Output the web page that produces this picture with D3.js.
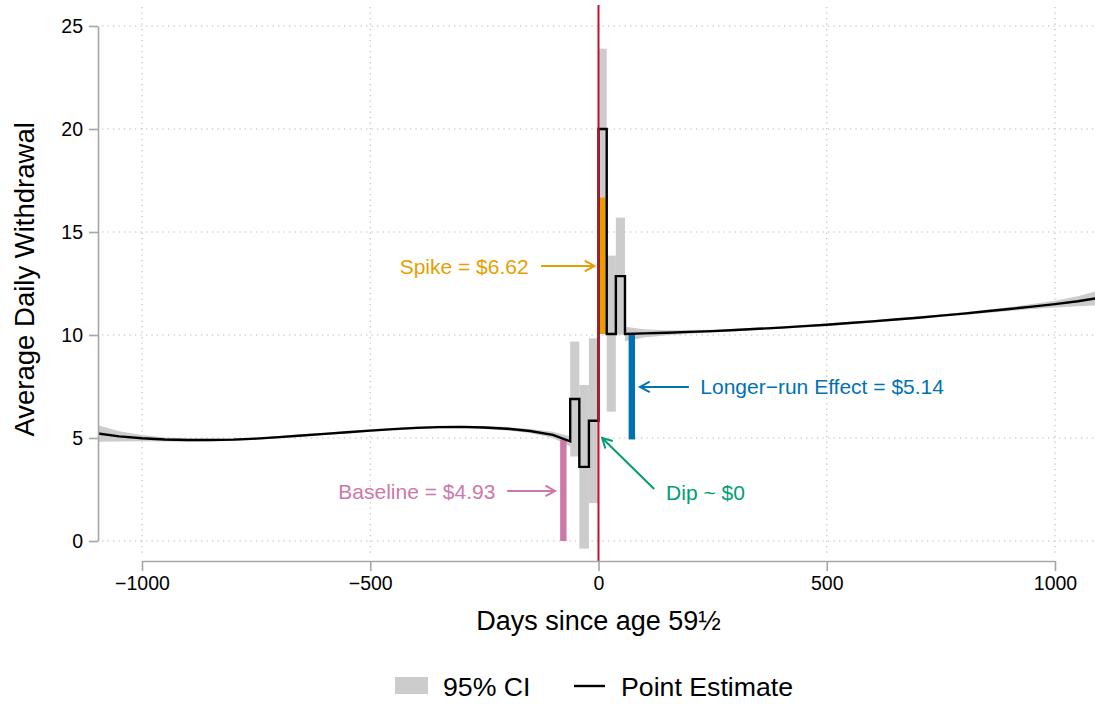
<!DOCTYPE html>
<html>
<head>
<meta charset="utf-8">
<script src="https://cdn.jsdelivr.net/npm/d3@7"></script>
<style>
  body { margin: 0; background: #fff; }
  svg { display: block; font-family: "Liberation Sans", Arial, sans-serif; }
</style>
</head>
<body>
<svg class="rd_chart" width="1095" height="704"></svg>
<script>
// left polynomial fit (days before 59.5)
var leftDays = [-1096, -1050, -1000, -950, -900, -850, -800, -750, -700, -650, -600, -550, -500, -450, -400, -350, -300, -250, -200, -150, -100, -62];
var leftEst = [5.22, 5.08, 4.99, 4.93, 4.90, 4.90, 4.92, 4.97, 5.04, 5.12, 5.20, 5.28, 5.36, 5.43, 5.49, 5.53, 5.54, 5.51, 5.45, 5.34, 5.15, 4.84];
var leftHi = [5.62, 5.33, 5.14, 5.03, 4.98, 4.96, 4.98, 5.03, 5.10, 5.18, 5.26, 5.34, 5.42, 5.49, 5.55, 5.59, 5.60, 5.58, 5.53, 5.44, 5.30, 5.09];
var leftLo = [4.82, 4.83, 4.84, 4.83, 4.82, 4.84, 4.86, 4.91, 4.98, 5.06, 5.14, 5.22, 5.30, 5.37, 5.43, 5.47, 5.48, 5.44, 5.37, 5.24, 5.00, 4.59];

// right polynomial fit
var rightDays = [58, 100, 150, 200, 250, 300, 350, 400, 450, 500, 550, 600, 650, 700, 750, 800, 850, 900, 950, 1000, 1050, 1096];
var rightEst = [10.05, 10.08, 10.11, 10.15, 10.19, 10.24, 10.30, 10.36, 10.43, 10.50, 10.58, 10.66, 10.75, 10.84, 10.94, 11.04, 11.15, 11.26, 11.38, 11.50, 11.64, 11.80];
var rightHi = [10.40, 10.28, 10.23, 10.24, 10.26, 10.30, 10.36, 10.42, 10.49, 10.56, 10.64, 10.72, 10.81, 10.90, 11.00, 11.11, 11.23, 11.36, 11.50, 11.66, 11.88, 12.16];
var rightLo = [9.70, 9.88, 9.99, 10.06, 10.12, 10.18, 10.24, 10.30, 10.37, 10.44, 10.52, 10.60, 10.69, 10.78, 10.88, 10.97, 11.07, 11.16, 11.26, 11.34, 11.40, 11.44];

// bins around the threshold
var binStart = [-62, -42, -21, 0, 18, 38];
var binEnd = [-42, -21, 0, 18, 38, 58];
var binEst = [6.89, 3.60, 5.84, 20.00, 10.05, 12.86];
var binLo = [4.10, -0.37, 1.84, 16.10, 6.28, 10.02];
var binHi = [9.68, 7.57, 9.84, 23.90, 13.85, 15.70];

// effect bars
var effectKeys = ["baseline", "spike", "longer"];
var effectDay = [-77, 9, 73];
var effectLo = [0, 10.05, 4.93];
var effectHi = [4.93, 16.67, 10.07];

// annotations: text anchor and arrow (from -> to) in data units
var noteKeys = ["spike", "baseline", "longer", "dip"];
var noteText = ["Spike = $6.62", "Baseline = $4.93", "Longer\u2212run Effect = $5.14", "Dip ~ $0"];
var noteDay = [-153, -226, 223, 148];
var noteVal = [13.35, 2.43, 7.48, 2.38];
var arrowFromDay = [-126, -200, 198, 122];
var arrowFromVal = [13.35, 2.43, 7.48, 2.52];
var arrowToDay = [-9, -95, 91, 8];
var arrowToVal = [13.35, 2.43, 7.48, 5.0];

var xTicks = [-1000, -500, 0, 500, 1000];
var yTicks = [0, 5, 10, 15, 20, 25];
var legendLabels = ["95% CI", "Point Estimate"];

var colors = {
    baseline: "#CC79A7",
    spike: "#E69F00",
    longer: "#0072B2",
    dip: "#009E73"
};

var chart = d3.select(".rd_chart");

var x = d3.scaleLinear()
    .domain([-1000, 1000])
    .range([142, 1055]);

var y = d3.scaleLinear()
    .domain([0, 25])
    .range([541, 26]);

var plotLeft = 98, plotRight = 1095, plotTop = 5, axisY = 561;

// grid
chart.append("g")
    .selectAll("line")
    .data(yTicks)
    .enter()
    .append("line")
    .attr("x1", plotLeft + 4)
    .attr("x2", plotRight)
    .attr("y1", d => y(d))
    .attr("y2", d => y(d))
    .style("stroke", "#b8b8b8")
    .style("stroke-width", 1.1)
    .style("stroke-dasharray", "1.3,4.2");

chart.append("g")
    .selectAll("line")
    .data(xTicks)
    .enter()
    .append("line")
    .attr("x1", d => x(d))
    .attr("x2", d => x(d))
    .attr("y1", plotTop + 2)
    .attr("y2", axisY - 5)
    .style("stroke", "#b8b8b8")
    .style("stroke-width", 1.1)
    .style("stroke-dasharray", "1.3,4.2");

var left = leftDays.map((d, i) => ({ day: d, est: leftEst[i], lo: leftLo[i], hi: leftHi[i] }));
var right = rightDays.map((d, i) => ({ day: d, est: rightEst[i], lo: rightLo[i], hi: rightHi[i] }));
var bins = binStart.map((d, i) => ({ start: d, end: binEnd[i], est: binEst[i], lo: binLo[i], hi: binHi[i] }));

var area = d3.area()
    .x(d => x(d.day))
    .y0(d => y(d.lo))
    .y1(d => y(d.hi));

[left, right].forEach(function (series) {
    chart.append("path")
        .datum(series)
        .attr("d", area)
        .style("fill", "#cccccc");
});

chart.selectAll(".ci-bin")
    .data(bins)
    .enter()
    .append("rect")
    .attr("class", "ci-bin")
    .attr("x", d => x(d.start))
    .attr("width", d => x(d.end) - x(d.start))
    .attr("y", d => y(d.hi))
    .attr("height", d => y(d.lo) - y(d.hi))
    .style("fill", "#cccccc");

// effect bars
chart.selectAll(".effect")
    .data(effectKeys)
    .enter()
    .append("rect")
    .attr("class", "effect")
    .attr("x", (d, i) => x(effectDay[i]) - 3.2)
    .attr("width", 6.4)
    .attr("y", (d, i) => y(effectHi[i]))
    .attr("height", (d, i) => y(effectLo[i]) - y(effectHi[i]))
    .style("fill", d => colors[d]);

// point estimate: left fit, steps, right fit
var pts = left.map(d => [d.day, d.est]);
bins.forEach(function (b) {
    pts.push([b.start, b.est]);
    pts.push([b.end, b.est]);
});
right.forEach(d => pts.push([d.day, d.est]));

var line = d3.line()
    .x(d => x(d[0]))
    .y(d => y(d[1]));

chart.append("path")
    .datum(pts)
    .attr("d", line)
    .style("fill", "none")
    .style("stroke", "#000")
    .style("stroke-width", 2.4)
    .style("stroke-linejoin", "miter");

// threshold
chart.append("line")
    .attr("x1", x(0))
    .attr("x2", x(0))
    .attr("y1", plotTop)
    .attr("y2", axisY)
    .style("stroke", "#c8102e")
    .style("stroke-width", 2);

// annotations
var notes = chart.append("g");
noteKeys.forEach(function (k, i) {
    var x1 = x(arrowFromDay[i]), y1 = y(arrowFromVal[i]);
    var x2 = x(arrowToDay[i]), y2 = y(arrowToVal[i]);
    var ang = Math.atan2(y2 - y1, x2 - x1);
    var hl = 11, hw = 0.5;
    notes.append("line")
        .attr("x1", x1).attr("y1", y1)
        .attr("x2", x2).attr("y2", y2)
        .style("stroke", colors[k])
        .style("stroke-width", 2);
    notes.append("path")
        .attr("d", "M" + (x2 - hl * Math.cos(ang - hw)) + "," + (y2 - hl * Math.sin(ang - hw)) +
            "L" + x2 + "," + y2 +
            "L" + (x2 - hl * Math.cos(ang + hw)) + "," + (y2 - hl * Math.sin(ang + hw)))
        .style("fill", "none")
        .style("stroke", colors[k])
        .style("stroke-width", 2);
    notes.append("text")
        .attr("x", x(noteDay[i]))
        .attr("y", y(noteVal[i]))
        .attr("dy", "0.36em")
        .attr("text-anchor", noteDay[i] < 0 ? "end" : "start")
        .style("font-size", "21px")
        .style("fill", colors[k])
        .text(noteText[i]);
});

// axes
var xAxis = d3.axisBottom(x)
    .tickValues(xTicks)
    .tickFormat(d3.format("d"))
    .tickSize(10)
    .tickSizeOuter(0)
    .tickPadding(5);

var yAxis = d3.axisLeft(y)
    .tickValues(yTicks)
    .tickFormat(d3.format("d"))
    .tickSize(9)
    .tickSizeOuter(0)
    .tickPadding(6);

var gx = chart.append("g")
    .attr("transform", "translate(0," + axisY + ")")
    .call(xAxis);

var gy = chart.append("g")
    .attr("transform", "translate(" + plotLeft + ",0)")
    .call(yAxis);

[gx, gy].forEach(function (g) {
    g.select(".domain").style("stroke", "#a6a6a6").style("stroke-width", 1.6);
    g.selectAll(".tick line").style("stroke", "#a6a6a6").style("stroke-width", 1.6);
    g.selectAll(".tick text")
        .style("font-size", "19.5px")
        .style("font-family", "Liberation Sans, Arial, sans-serif")
        .style("fill", "#000");
});

chart.append("text")
    .attr("x", x(0))
    .attr("y", 630)
    .attr("text-anchor", "middle")
    .style("font-size", "27px")
    .text("Days since age 59\u00BD");

chart.append("text")
    .attr("transform", "translate(34," + y(12.7) + ") rotate(-90)")
    .attr("text-anchor", "middle")
    .style("font-size", "27.5px")
    .text("Average Daily Withdrawal");

// legend
var legend = chart.append("g")
    .attr("transform", "translate(395,686)");

legend.append("rect")
    .attr("x", 0)
    .attr("y", -9)
    .attr("width", 33)
    .attr("height", 17)
    .style("fill", "#cccccc");

legend.append("text")
    .attr("x", 48)
    .attr("dy", "0.36em")
    .style("font-size", "26.7px")
    .text(legendLabels[0]);

legend.append("line")
    .attr("x1", 179)
    .attr("x2", 210)
    .style("stroke", "#000")
    .style("stroke-width", 2.4);

legend.append("text")
    .attr("x", 226)
    .attr("dy", "0.36em")
    .style("font-size", "26.7px")
    .text(legendLabels[1]);
</script>
</body>
</html>
